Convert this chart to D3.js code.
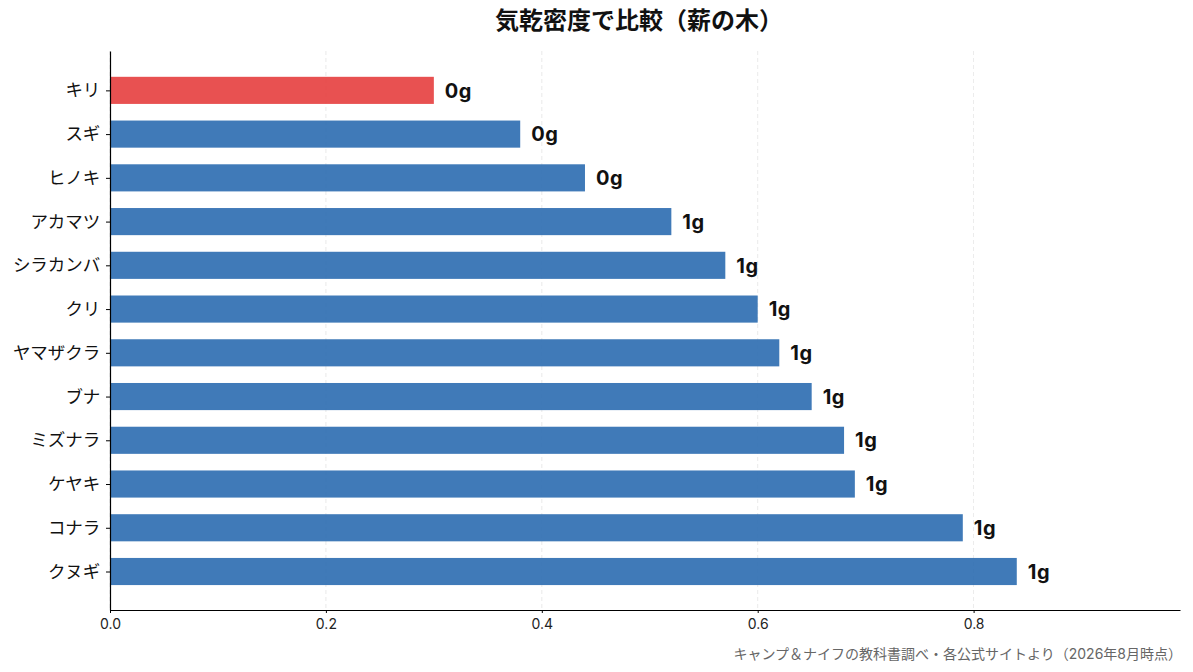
<!DOCTYPE html>
<html>
<head>
<meta charset="utf-8">
<script src="https://cdn.jsdelivr.net/npm/d3@7"></script>
<style>
  body { margin: 0; background: #fff; }
  svg text { font-family: "Inter", "Noto Sans CJK JP", sans-serif; }
</style>
</head>
<body>
<svg id="chart" width="1193" height="672"></svg>
<script>
"use strict";

// 気乾密度 (g/cm3) - top to bottom
const woods = ["キリ", "スギ", "ヒノキ", "アカマツ", "シラカンバ", "クリ", "ヤマザクラ", "ブナ", "ミズナラ", "ケヤキ", "コナラ", "クヌギ"];
const density = [0.30, 0.38, 0.44, 0.52, 0.57, 0.60, 0.62, 0.65, 0.68, 0.69, 0.79, 0.84];
const highlight = ["キリ"];
const xTicks = [0, 0.2, 0.4, 0.6, 0.8];

const svg = d3.select("#chart");
const plot = { left: 110, right: 1180, top: 51, bottom: 610 };

const x = d3.scaleLinear()
  .domain([0, d3.max(density) * 1.18])
  .range([plot.left, plot.right]);

// bar index -> centre y
const y = d3.scaleLinear()
  .domain([-0.9, woods.length - 1 + 0.88])
  .range([plot.top, plot.bottom]);

const barH = (y(1) - y(0)) * 0.62;

// grid
svg.append("g")
  .selectAll("line")
  .data(xTicks)
  .join("line")
  .attr("x1", (d) => x(d))
  .attr("x2", (d) => x(d))
  .attr("y1", plot.top)
  .attr("y2", plot.bottom)
  .attr("stroke", "#d9d9d9")
  .attr("stroke-width", 0.8)
  .attr("stroke-dasharray", "4,3")
  .attr("opacity", 0.7);

// bars
svg.append("g")
  .selectAll("rect")
  .data(woods)
  .join("rect")
  .attr("x", x(0))
  .attr("y", (d, i) => y(i) - barH / 2)
  .attr("width", (d, i) => x(density[i]) - x(0))
  .attr("height", barH)
  .attr("fill", (d) => (highlight.includes(d) ? "#E53E3E" : "#2B6CB0"))
  .attr("fill-opacity", 0.9);

// value labels
svg.append("g")
  .selectAll("text")
  .data(woods)
  .join("text")
  .attr("x", (d, i) => x(density[i]) + 11)
  .attr("y", (d, i) => y(i))
  .attr("dy", "0.36em")
  .attr("font-size", 20)
  .attr("font-weight", 700)
  .attr("letter-spacing", 0.5)
  .attr("fill", "#111")
  .text((d, i) => `${Math.round(density[i])}g`);

// x axis
const xAxis = svg.append("g")
  .attr("transform", `translate(0,${plot.bottom})`)
  .call(d3.axisBottom(x).tickValues(xTicks).tickFormat(d3.format(".1f")).tickSize(3).tickSizeOuter(0));
xAxis.select(".domain").attr("stroke", "#000").attr("stroke-width", 1.2);
xAxis.selectAll("text").attr("font-size", 14).attr("fill", "#222").attr("dy", "0.95em");

// y axis
const yAxis = svg.append("g")
  .attr("transform", `translate(${plot.left},0)`)
  .call(d3.axisLeft(y).tickValues(d3.range(woods.length)).tickFormat((i) => woods[i]).tickSize(4).tickSizeOuter(0));
yAxis.select(".domain").attr("stroke", "#000").attr("stroke-width", 1.2);
yAxis.selectAll("text").attr("font-size", 17.5).attr("fill", "#111").attr("dx", "-0.15em");

// title
svg.append("text")
  .attr("x", 639)
  .attr("y", 29)
  .attr("text-anchor", "middle")
  .attr("font-size", 24)
  .attr("font-weight", "bold")
  .attr("fill", "#111")
  .text("気乾密度で比較（薪の木）");

// source note
svg.append("text")
  .attr("x", 1182)
  .attr("y", 659)
  .attr("text-anchor", "end")
  .attr("font-size", 14)
  .attr("fill", "#666")
  .text("キャンプ＆ナイフの教科書調べ・各公式サイトより（2026年8月時点）");
</script>
</body>
</html>
